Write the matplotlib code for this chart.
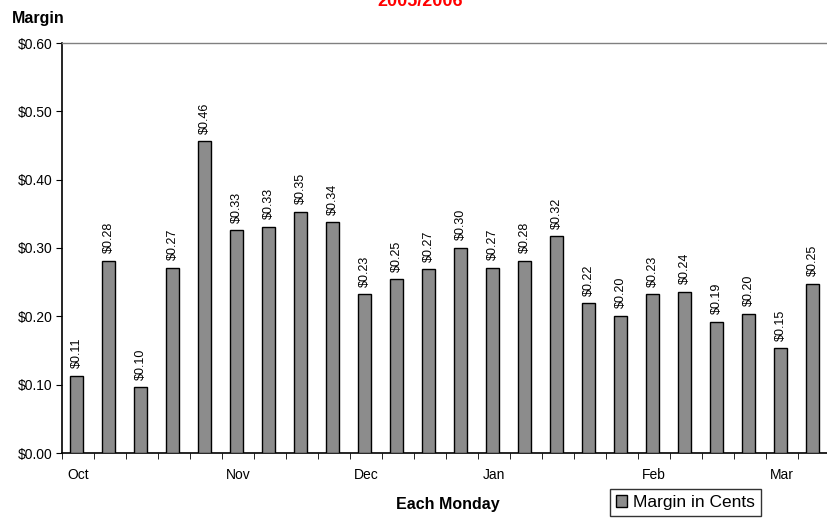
import matplotlib
matplotlib.use("Agg")
import matplotlib.pyplot as plt
from matplotlib.ticker import FuncFormatter, FixedLocator
import numpy as np

plt.rcParams['font.family'] = ['Liberation Sans', 'DejaVu Sans']

weeks = ["2005-10-03", "2005-10-10", "2005-10-17", "2005-10-24", "2005-10-31",
         "2005-11-07", "2005-11-14", "2005-11-21", "2005-11-28",
         "2005-12-05", "2005-12-12", "2005-12-19", "2005-12-26",
         "2006-01-02", "2006-01-09", "2006-01-16", "2006-01-23", "2006-01-30",
         "2006-02-06", "2006-02-13", "2006-02-20", "2006-02-27",
         "2006-03-06", "2006-03-13"]
margin = [0.113, 0.281, 0.096, 0.271, 0.456, 0.326, 0.331, 0.353, 0.338,
          0.232, 0.254, 0.269, 0.300, 0.271, 0.281, 0.317,
          0.219, 0.201, 0.232, 0.236, 0.192, 0.204, 0.153, 0.248]
labels = ["$0.11", "$0.28", "$0.10", "$0.27", "$0.46", "$0.33", "$0.33", "$0.35", "$0.34",
          "$0.23", "$0.25", "$0.27", "$0.30", "$0.27", "$0.28", "$0.32",
          "$0.22", "$0.20", "$0.23", "$0.24", "$0.19", "$0.20", "$0.15", "$0.25"]
month_names = {"10": "Oct", "11": "Nov", "12": "Dec", "01": "Jan", "02": "Feb", "03": "Mar"}

W, H = 828, 521
fig = plt.figure(figsize=(W / 100, H / 100), dpi=100)
ax = fig.add_axes([62 / W, (H - 453) / H, (830 - 62) / W, (453 - 43) / H])

x = np.arange(len(weeks))
bars = ax.bar(x - 0.05, margin, width=0.42, color="#8c8c8c", edgecolor="black",
              linewidth=1.0, label="Margin in Cents", zorder=3)

for xi, v, lab in zip(x, margin, labels):
    ax.text(xi - 0.05, v + 0.011, lab, rotation=90, ha="center", va="bottom",
            fontsize=9, color="black")

ax.set_xlim(-0.5, len(weeks) - 0.5)
ax.set_ylim(0, 0.6)
ax.yaxis.set_major_locator(FixedLocator(np.arange(0, 0.61, 0.1)))
ax.yaxis.set_major_formatter(FuncFormatter(lambda v, p: f"${v:.2f}"))

# tick marks between weeks, month labels at first Monday of each month
ax.set_xticks(np.arange(len(weeks) + 1) - 0.5, minor=True)
ax.tick_params(axis="x", which="minor", length=4, direction="out", color="black")
mpos, mlab = [], []
prev = None
for i, w in enumerate(weeks):
    m = w[5:7]
    if m != prev:
        mpos.append(i)
        mlab.append(month_names[m])
        prev = m
ax.set_xticks(mpos)
ax.set_xticklabels(mlab)
ax.tick_params(axis="x", which="major", length=0, pad=11, labelsize=10)
ax.tick_params(axis="y", length=4, direction="out", labelsize=10, pad=3)

for s in ["left", "bottom"]:
    ax.spines[s].set_color("black")
    ax.spines[s].set_linewidth(1.2)
ax.spines["top"].set_color("#808080")
ax.spines["top"].set_linewidth(1.0)
ax.spines["right"].set_visible(False)

fig.text(12 / W, (H - 18) / H, "Margin", fontsize=11.5, fontweight="bold", va="center", ha="left")
fig.text(448 / W, (H - 505) / H, "Each Monday", fontsize=11.5, fontweight="bold", va="center", ha="center")
fig.text(420 / W, (H - 1) / H, "2005/2006", fontsize=13, fontweight="bold", color="red",
         va="center", ha="center")

leg = fig.legend(handles=[bars], labels=["Margin in Cents"], loc="upper left",
                 bbox_to_anchor=(610 / W, (H - 489) / H), fontsize=12.5, frameon=True,
                 fancybox=False, edgecolor="black", handlelength=0.65, handleheight=0.65,
                 handletextpad=0.3, borderpad=0.35, borderaxespad=0)
leg.get_frame().set_linewidth(1.0)

fig.savefig("out.png", dpi=100)
